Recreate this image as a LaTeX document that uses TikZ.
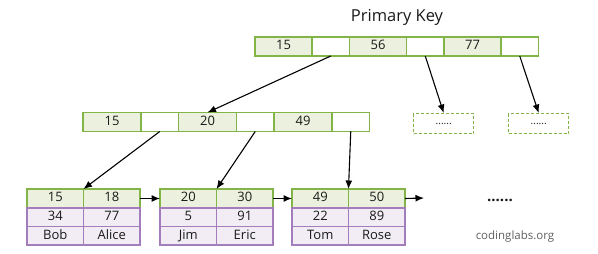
\documentclass[tikz,border=0pt]{standalone}
\usepackage{fontspec}
\setmainfont{Open Sans}
\usetikzlibrary{arrows.meta,positioning}
\definecolor{bkGreen}{HTML}{82B447}
\definecolor{bkGreenFill}{HTML}{EBF1DE}
\definecolor{bkPurple}{HTML}{A47DBF}
\definecolor{bkPurpleFill}{HTML}{F2ECF5}
\definecolor{bkInk}{HTML}{1A1A1A}
\definecolor{bkGray}{HTML}{5F5F5F}
\tikzset{
 btree/.style={x=1pt,y=-1pt,line join=miter,text=bkInk,
   font=\fontsize{13}{15}\selectfont},
 cellbase/.style={rectangle,inner sep=0pt,outer sep=0pt,line width=1.4pt,
   text height=9.2pt,text depth=2.6pt},
 keycell/.style={cellbase,draw=bkGreen,fill=bkGreenFill,minimum height=19pt,minimum width=57pt},
 ptrcell/.style={keycell,fill=white,minimum width=37.5pt},
 datacell/.style={cellbase,draw=bkPurple,fill=bkPurpleFill,minimum height=18.5pt,minimum width=56.5pt},
 morebox/.style={rectangle,draw=bkGreen,line width=1.4pt,dash pattern=on 3pt off 2pt,
   minimum width=60pt,minimum height=20pt,inner sep=0pt,anchor=north west,
   font=\fontsize{10}{11}\selectfont},
 link/.style={draw=black,line width=1.1pt,-{Latex[length=8.5pt,width=7pt]}},
 title/.style={font=\fontsize{16.5}{18}\selectfont},
 credit/.style={font=\fontsize{11.5}{13}\selectfont,text=bkGray},
 etcdots/.style={font=\fontsize{15}{16}\selectfont\bfseries}
}
% one leaf page: two keys, two data rows
\newcommand{\leafPage}[8]{%
 \node[keycell,minimum width=56.5pt,anchor=north west] (#1k1) at (#2,189) {#3};
 \node[keycell,minimum width=56.5pt,right=0pt of #1k1] (#1k2) {#4};
 \node[datacell,below=0pt of #1k1] (#1d1) {#5};
 \node[datacell,below=0pt of #1k2] (#1d2) {#6};
 \node[datacell,below=0pt of #1d1] (#1n1) {#7};
 \node[datacell,below=0pt of #1d2] (#1n2) {#8};}
\begin{document}
\begin{tikzpicture}[btree]
 \useasboundingbox (0,0) rectangle (598,254);
 \node[title] (pk) at (397,17) {Primary Key};
 % root page
 \node[keycell,anchor=north west] (r1) at (255,37) {15};
 \node[ptrcell,right=0pt of r1] (r2) {};
 \node[keycell,right=0pt of r2] (r3) {56};
 \node[ptrcell,right=0pt of r3] (r4) {};
 \node[keycell,right=0pt of r4] (r5) {77};
 \node[ptrcell,right=0pt of r5] (r6) {};
 % second level
 \node[keycell,minimum width=58pt,anchor=north west] (m1) at (83,112.5) {15};
 \node[ptrcell,right=0pt of m1] (m2) {};
 \node[keycell,minimum width=58pt,right=0pt of m2] (m3) {20};
 \node[ptrcell,right=0pt of m3] (m4) {};
 \node[keycell,minimum width=58pt,right=0pt of m4] (m5) {49};
 \node[ptrcell,right=0pt of m5] (m6) {};
 \node[morebox] (moreA) at (413,113) {......};
 \node[morebox] (moreB) at (508,113) {......};
 % leaves
 \leafPage{A}{27}{15}{18}{34}{77}{Bob}{Alice}
 \leafPage{B}{160}{20}{30}{5}{91}{Jim}{Eric}
 \leafPage{C}{292}{49}{50}{22}{89}{Tom}{Rose}
 \coordinate (tail) at (424,198);
 \node[etcdots] (etc) at (500,200) {......};
 \node[credit] (site) at (515,236.5) {codinglabs.org};
 % pointers
 \draw[link] (r2.south) -- (m3.north);
 \draw[link] (r4.south) -- (moreA.north);
 \draw[link] (r6.south) -- (moreB.north);
 \draw[link] (m2.south) -- (Ak1.north east);
 \draw[link] (m4.south) -- (Bk1.north east);
 \draw[link] (m6.south) -- (Ck1.north east);
 \draw[link] (Ak2.east) -- (Bk1.west);
 \draw[link] (Bk2.east) -- (Ck1.west);
 \draw[link] (Ck2.east) -- (tail);
\end{tikzpicture}
\end{document}
